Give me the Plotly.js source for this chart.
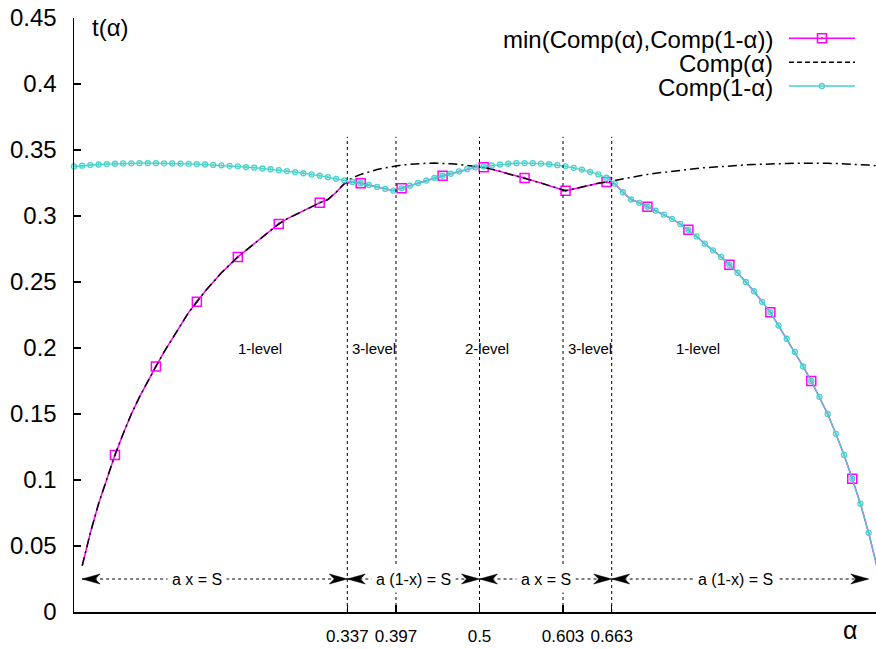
<!DOCTYPE html>
<html>
<head>
<meta charset="utf-8">
<script src="https://cdn.plot.ly/plotly-3.0.1.min.js"></script>
<style>html,body{margin:0;padding:0;background:#fff;}#chart{width:876px;height:649px;}</style>
</head>
<body>
<div id="chart"></div>
<script>
// alpha grid (k/99, k = 0..99)
const alpha = [0,0.0101,0.0202,0.0303,0.0404,0.0505,0.0606,0.0707,0.0808,0.0909,
0.1010,0.1111,0.1212,0.1313,0.1414,0.1515,0.1616,0.1717,0.1818,0.1919,
0.2020,0.2121,0.2222,0.2323,0.2424,0.2525,0.2626,0.2727,0.2828,0.2929,
0.3030,0.3131,0.3232,0.3333,0.3434,0.3535,0.3636,0.3737,0.3838,0.3939,
0.4040,0.4141,0.4242,0.4343,0.4444,0.4545,0.4646,0.4747,0.4848,0.4949,
0.5051,0.5152,0.5253,0.5354,0.5455,0.5556,0.5657,0.5758,0.5859,0.5960,
0.6061,0.6162,0.6263,0.6364,0.6465,0.6566,0.6667,0.6768,0.6869,0.6970,
0.7071,0.7172,0.7273,0.7374,0.7475,0.7576,0.7677,0.7778,0.7879,0.7980,
0.8081,0.8182,0.8283,0.8384,0.8485,0.8586,0.8687,0.8788,0.8889,0.8990,
0.9091,0.9192,0.9293,0.9394,0.9495,0.9596,0.9697,0.9798,0.9899,1.0000];

// Comp(alpha)
const compAlpha = [null,0.035,0.060,0.082,0.101,0.119,0.135,0.150,0.163,0.175,
0.186,0.197,0.207,0.217,0.227,0.235,0.243,0.250,0.257,0.263,
0.269,0.274,0.279,0.2845,0.2895,0.294,0.2978,0.301,0.304,0.307,
0.310,0.3125,0.318,0.3245,0.3290,0.3315,0.3335,0.3352,0.3365,0.3376,
0.3385,0.3392,0.3397,0.3400,0.3401,0.3400,0.3396,0.3390,0.3383,0.3376,
0.3369,0.3355,0.3338,0.3320,0.3305,0.3288,0.3268,0.3250,0.3230,0.3210,
0.3192,0.3205,0.3220,0.3235,0.3248,0.3258,0.3270,0.3282,0.3294,0.3305,
0.3315,0.3324,0.3332,0.3340,0.3347,0.3354,0.3360,0.3366,0.3371,0.3376,
0.3380,0.3384,0.3387,0.3390,0.3393,0.3395,0.3397,0.3398,0.3399,0.3400,
0.3400,0.3400,0.3399,0.3398,0.3396,0.3393,0.3390,0.3386,0.3381,0.3375];

// Comp(1-alpha)
const compOneMinus = [0.3375,0.3381,0.3386,0.3390,0.3393,0.3396,0.3398,0.3399,0.3400,0.3400,
0.3400,0.3399,0.3398,0.3397,0.3395,0.3393,0.3390,0.3387,0.3384,0.3380,
0.3376,0.3371,0.3366,0.3360,0.3354,0.3347,0.3340,0.3332,0.3324,0.3315,
0.3305,0.3294,0.3282,0.3270,0.3258,0.3248,0.3235,0.3220,0.3205,0.3192,
0.3210,0.3230,0.3250,0.3268,0.3288,0.3305,0.3320,0.3338,0.3355,0.3369,
0.3376,0.3383,0.3390,0.3396,0.3400,0.3401,0.3400,0.3397,0.3392,0.3385,
0.3376,0.3365,0.3352,0.3335,0.3315,0.3290,0.3245,0.318,0.3125,0.310,
0.307,0.304,0.301,0.2978,0.294,0.2895,0.2845,0.279,0.274,0.269,
0.263,0.257,0.250,0.243,0.235,0.227,0.217,0.207,0.197,0.186,
0.175,0.163,0.150,0.135,0.119,0.101,0.082,0.060,0.035,null];

// min(Comp(alpha), Comp(1-alpha))
const minComp = [null,0.035,0.060,0.082,0.101,0.119,0.135,0.150,0.163,0.175,
0.186,0.197,0.207,0.217,0.227,0.235,0.243,0.250,0.257,0.263,
0.269,0.274,0.279,0.2845,0.2895,0.294,0.2978,0.301,0.304,0.307,
0.310,0.3125,0.318,0.3245,0.3258,0.3248,0.3235,0.3220,0.3205,0.3192,
0.3210,0.3230,0.3250,0.3268,0.3288,0.3305,0.3320,0.3338,0.3355,0.3369,
0.3369,0.3355,0.3338,0.3320,0.3305,0.3288,0.3268,0.3250,0.3230,0.3210,
0.3192,0.3205,0.3220,0.3235,0.3248,0.3258,0.3245,0.318,0.3125,0.310,
0.307,0.304,0.301,0.2978,0.294,0.2895,0.2845,0.279,0.274,0.269,
0.263,0.257,0.250,0.243,0.235,0.227,0.217,0.207,0.197,0.186,
0.175,0.163,0.150,0.135,0.119,0.101,0.082,0.060,0.035,null];

// x tick values (level boundaries)
const boundaries = [0.337, 0.397, 0.5, 0.603, 0.663];
const boundaryLabels = ['0.337', '0.397', '0.5', '0.603', '0.663'];

// level names
const levelNames = ['1-level', '3-level', '2-level', '3-level', '1-level'];
// arrow ranges and equations
const arrowFrom = [0.01, 0.337, 0.5, 0.663];
const arrowTo = [0.337, 0.5, 0.663, 0.98];
const arrowText = ['a x = S', 'a (1-x) = S', 'a x = S', 'a (1-x) = S'];

const legendNames = ['min(Comp(\u03b1),Comp(1-\u03b1))', 'Comp(\u03b1)', 'Comp(1-\u03b1)'];

// ---- layout / style ----
const FONT = 'Liberation Sans, Arial, Helvetica, sans-serif';
const MAG = '#ff00ff', CYAN = '#48d1cc', BLK = '#000000';
const BLKDASH = '9px,4px,2px,4px';
const L = 74, T = 18, W = 876, H = 649, B = 37;
const plotW = W - L, plotH = H - T - B;
const px2x = p => (p - L) / plotW;
const px2y = p => (H - B - p) / plotH;

const magSizes = alpha.map((a, k) => (k % 5 === 0 && k > 0 && k < 99) ? 9 : 0);
const magOpac = magSizes.map(s => s > 0 ? 1 : 0);

const traces = [
  {x: alpha, y: minComp, name: legendNames[0], type: 'scatter', mode: 'lines+markers',
   line: {color: MAG, width: 1.5},
   marker: {symbol: 'square-open-dot', size: magSizes, opacity: magOpac, color: MAG, line: {color: MAG, width: 1.5}},
   showlegend: false, connectgaps: false},
  {x: alpha, y: compAlpha, name: legendNames[1], type: 'scatter', mode: 'lines',
   line: {color: BLK, width: 1.5, dash: BLKDASH}, showlegend: false},
  {x: alpha, y: compOneMinus, name: legendNames[2], type: 'scatter', mode: 'lines+markers',
   line: {color: CYAN, width: 1.3},
   marker: {symbol: 'circle-open-dot', size: 5, color: CYAN, line: {color: CYAN, width: 1.3}},
   cliponaxis: false, showlegend: false}
];

const shapes = [];
const annotations = [];

// vertical dashed boundary lines
boundaries.forEach(b => {
  shapes.push({type: 'line', xref: 'x', yref: 'y', x0: b, x1: b, y0: 0, y1: 0.36,
    line: {color: BLK, width: 1, dash: '3px,3px'}, layer: 'above'});
});

// level labels
const levelX = [0.2, 0.34, 0.48, 0.607, 0.74];
levelNames.forEach((t, i) => {
  annotations.push({xref: 'x', yref: 'y', x: levelX[i], y: 0.2, text: t, showarrow: false,
    xanchor: 'left', yanchor: 'middle', font: {family: FONT, size: 15, color: BLK}});
});

// arrows
const arrowY = 0.025;
const labelX = [0.152, 0.418, 0.5815, 0.8156];
arrowFrom.forEach((a, i) => {
  const b = arrowTo[i];
  shapes.push({type: 'line', xref: 'x', yref: 'y', x0: a, x1: b, y0: arrowY, y1: arrowY,
    line: {color: BLK, width: 1, dash: '3px,3px'}});
  shapes.push({type: 'path', xref: 'x', yref: 'y', xsizemode: 'pixel', ysizemode: 'pixel',
    xanchor: a, yanchor: arrowY, path: 'M0,0L18,5L13,0L18,-5Z',
    fillcolor: BLK, line: {color: BLK, width: 0.5}});
  shapes.push({type: 'path', xref: 'x', yref: 'y', xsizemode: 'pixel', ysizemode: 'pixel',
    xanchor: b, yanchor: arrowY, path: 'M0,0L-18,5L-13,0L-18,-5Z',
    fillcolor: BLK, line: {color: BLK, width: 0.5}});
  annotations.push({xref: 'x', yref: 'y', x: labelX[i], y: arrowY, text: arrowText[i], showarrow: false,
    xanchor: 'center', yanchor: 'middle', bgcolor: '#ffffff', borderpad: 4,
    font: {family: FONT, size: 16, color: BLK}});
});

// axis labels
annotations.push({xref: 'paper', yref: 'paper', x: px2x(90), y: px2y(27.5), text: 't(\u03b1)',
  showarrow: false, xanchor: 'left', yanchor: 'middle', font: {family: FONT, size: 24, color: BLK}});
annotations.push({xref: 'paper', yref: 'paper', x: px2x(850), y: px2y(630), text: '\u03b1',
  showarrow: false, xanchor: 'center', yanchor: 'middle', font: {family: FONT, size: 25, color: BLK}});

// custom legend (samples on the right of the text)
const legY = [38.3, 62.3, 86];
const sx0 = px2x(789), sx1 = px2x(855), sxm = px2x(822);
legendNames.forEach((t, i) => {
  annotations.push({xref: 'paper', yref: 'paper', x: px2x(774), y: px2y(legY[i] + 1.5), text: t,
    showarrow: false, xanchor: 'right', yanchor: 'middle', borderpad: 0,
    font: {family: FONT, size: 24, color: BLK}});
});
shapes.push({type: 'line', xref: 'paper', yref: 'paper', x0: sx0, x1: sx1, y0: px2y(legY[0]), y1: px2y(legY[0]),
  line: {color: MAG, width: 1.5}});
shapes.push({type: 'rect', xref: 'paper', yref: 'paper', xsizemode: 'pixel', ysizemode: 'pixel',
  xanchor: sxm, yanchor: px2y(legY[0]), x0: -4.5, x1: 4.5, y0: -4.5, y1: 4.5,
  fillcolor: 'rgba(255,255,255,0)', line: {color: MAG, width: 1.5}});
shapes.push({type: 'circle', xref: 'paper', yref: 'paper', xsizemode: 'pixel', ysizemode: 'pixel',
  xanchor: sxm, yanchor: px2y(legY[0]), x0: -1, x1: 1, y0: -1, y1: 1,
  fillcolor: MAG, line: {color: MAG, width: 0.5}});
shapes.push({type: 'line', xref: 'paper', yref: 'paper', x0: sx0, x1: sx1, y0: px2y(legY[1]), y1: px2y(legY[1]),
  line: {color: BLK, width: 1.5, dash: '5px,3px'}});
shapes.push({type: 'line', xref: 'paper', yref: 'paper', x0: sx0, x1: sx1, y0: px2y(legY[2]), y1: px2y(legY[2]),
  line: {color: CYAN, width: 1.3}});
shapes.push({type: 'circle', xref: 'paper', yref: 'paper', xsizemode: 'pixel', ysizemode: 'pixel',
  xanchor: sxm, yanchor: px2y(legY[2]), x0: -2.5, x1: 2.5, y0: -2.5, y1: 2.5,
  fillcolor: 'rgba(255,255,255,0)', line: {color: CYAN, width: 1.3}});

const layout = {
  width: W, height: H,
  margin: {l: L, r: 0, t: T, b: B, pad: 0},
  paper_bgcolor: '#ffffff', plot_bgcolor: '#ffffff',
  showlegend: false,
  font: {family: FONT, color: BLK},
  xaxis: {
    range: [0, plotW / 811], tickvals: boundaries, ticktext: boundaryLabels,
    ticks: 'inside', ticklen: 7, tickwidth: 1.5, tickcolor: BLK,
    showline: true, linecolor: BLK, linewidth: 1.5, mirror: false,
    showgrid: false, zeroline: false, ticklabelstandoff: 8,
    tickfont: {family: FONT, size: 17, color: BLK}
  },
  yaxis: {
    range: [0, 0.45], tick0: 0, dtick: 0.05,
    ticks: 'inside', ticklen: 7, tickwidth: 1.5, tickcolor: BLK,
    showline: true, linecolor: BLK, linewidth: 1.5, mirror: false,
    showgrid: false, zeroline: false, ticklabelstandoff: 11,
    tickfont: {family: FONT, size: 24, color: BLK}
  },
  shapes: shapes,
  annotations: annotations
};

Plotly.newPlot('chart', traces, layout, {displayModeBar: false, staticPlot: true});
</script>
</body>
</html>
